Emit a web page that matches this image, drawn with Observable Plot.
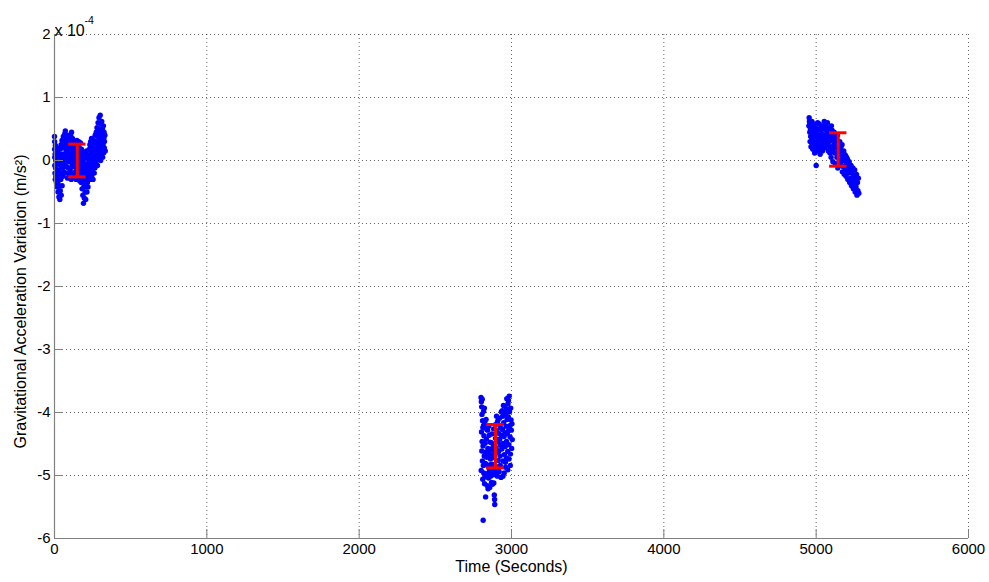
<!DOCTYPE html>
<html>
<head>
<meta charset="utf-8">
<script src="https://cdn.jsdelivr.net/npm/d3@7"></script>
<script src="https://cdn.jsdelivr.net/npm/@observablehq/plot@0.6"></script>
<style>
  html, body { margin: 0; padding: 0; background: #fff; }
  #chart svg { display: block; }
</style>
</head>
<body>
<div id="chart"></div>
<script>
// Tick values
const xTicks = [0, 1000, 2000, 3000, 4000, 5000, 6000];
const yTicks = [-6, -5, -4, -3, -2, -1, 0, 1, 2];

// Measurements: [time (s), gravitational acceleration variation (x 1e-4 m/s^2)]
const cluster1 = [
  [0,0.38],[1,0.30],[1,0.18],[2,0.05],[2,-0.08],[3,-0.2],[4,0.1],[5,-0.3],[6,0.24],[7,-0.12],[8,0.0],[9,-0.25],[10,0.15],[12,-0.05],[13,-0.35],[14,0.08],
  [16,-0.18],[17,-0.42],[19,0.2],[20,-0.28],[22,-0.05],[23,-0.5],[25,0.12],[26,-0.32],[28,-0.15],[29,-0.58],[31,0.05],[32,-0.4],[34,-0.22],[35,-0.62],[37,0.18],[38,-0.48],[40,-0.08],[41,-0.3],[43,0.25],[44,-0.55],[46,0.0],[47,-0.2],[49,0.32],[50,-0.4],[52,0.1],[53,-0.12],
  [55,0.28],[56,-0.25],[58,0.38],[59,0.05],[61,0.2],[62,-0.18],[64,0.35],[65,0.1],[67,0.42],[68,-0.05],[70,0.25],[71,0.47],[73,0.0],[74,0.3],[76,-0.2],[77,0.15],[79,0.38],[80,-0.1],[82,0.22],[83,0.05],[85,0.4],[86,-0.28],[88,0.12],[89,0.3],[91,-0.12],[92,0.2],[94,0.36],[95,-0.02],[97,0.26],[98,-0.22],[100,0.08],[101,0.33],[103,-0.15],[104,0.18],[106,0.4],[107,0.02],[109,0.28],[110,-0.3],[112,0.45],[113,0.1],[115,0.22],[116,-0.08],[118,0.35],[119,0.0],[121,0.15],[122,-0.2],[124,0.3],[125,0.05],[127,-0.1],[128,0.25],
  [130,0.12],[132,-0.25],[133,0.3],[135,-0.05],[136,0.18],[138,-0.18],[139,0.05],[141,0.25],[142,-0.3],[144,0.1],[145,-0.12],[147,0.32],[148,0.0],[150,-0.22],[151,0.15],[153,-0.08],[154,0.22],[156,-0.28],[157,0.08],[159,0.3],[160,-0.15],[162,0.02],[163,0.2],[165,-0.32],[166,-0.05],[168,0.12],[169,-0.2],[171,0.28],[172,-0.1],[174,0.05],[175,-0.35],[177,0.18],[178,-0.02],
  [180,-0.25],[181,-0.45],[183,0.1],[184,-0.15],[186,-0.55],[187,-0.32],[189,0.0],[190,-0.68],[192,-0.2],[193,-0.42],[195,0.12],[196,-0.6],[198,-0.08],[199,-0.35],[201,-0.5],[202,0.05],[204,-0.22],[205,-0.62],[207,-0.1],[208,-0.4],[210,0.15],[211,-0.28],[213,-0.5],[214,-0.05],[216,-0.35],[217,-0.15],[219,0.08],[220,-0.42],[222,-0.2],[223,-0.3],[225,0.02],[226,-0.12],[228,-0.25],[229,0.18],
  [231,-0.1],[232,0.25],[234,-0.3],[235,0.05],[237,0.3],[238,-0.18],[240,0.12],[241,-0.05],[243,0.35],[244,-0.25],[246,0.2],[247,0.0],[249,-0.15],[250,0.28],[252,0.08],[253,-0.3],[255,0.15],[256,-0.08],[258,0.32],[259,0.02],[261,-0.2],[262,0.22],[264,0.1],[265,-0.12],[267,0.4],[268,0.05],[270,0.25],[271,-0.05],[273,0.15],[274,0.45],
  [276,0.0],[277,0.3],[279,0.52],[280,0.12],[282,-0.08],[283,0.38],[285,0.2],[286,0.6],[288,0.05],[289,0.42],[291,0.25],[292,0.68],[294,0.1],[295,0.5],[297,0.32],[298,0.15],[300,0.72],[301,0.45],[303,0.0],[304,0.58],[306,0.28],[307,0.4],[309,0.1],[310,0.62],[312,0.35],[313,0.2],[315,0.5],[316,0.05],[318,0.42],[319,0.25],[321,0.55],[322,0.12],[324,0.35],[325,0.45],[327,0.2],[328,0.3],[331,0.4],[333,0.15]
];

const cluster2 = [
  [2800,-3.76],[2802,-3.83],[2804,-3.91],[2806,-4.03],[2808,-3.79],[2810,-4.13],[2803,-4.31],[2807,-4.46],[2812,-4.24],[2805,-4.61],[2809,-4.77],[2813,-4.53],[2801,-4.92],[2811,-5.06],[2815,-4.84],[2814,-5.71],[2817,-3.98],[2819,-4.37],[2821,-4.69],[2823,-5.13],[2818,-4.96],[2825,-4.17],[2827,-4.49],[2829,-4.81],[2826,-5.02],[2830,-5.34],[2816,-4.21],[2822,-3.93],[2828,-4.63],
  [2833,-4.11],[2835,-4.42],[2837,-4.71],[2839,-4.97],[2841,-5.16],[2843,-4.28],[2845,-4.57],[2847,-4.86],[2849,-5.04],[2851,-4.22],[2853,-4.66],[2855,-4.91],[2857,-5.19],[2859,-4.47],[2861,-4.74],[2863,-5.01],[2865,-4.59],[2867,-4.88],[2869,-5.11],[2871,-4.34],[2873,-4.82],[2875,-5.14],[2877,-4.56],[2879,-4.72],[2881,-4.99],[2883,-4.26],[2885,-4.87],[2887,-5.31],[2889,-5.38],[2890,-5.46],[2891,-4.62],[2893,-4.94],[2895,-4.41],[2838,-4.27],[2846,-5.21],[2854,-4.36],[2862,-4.93],[2870,-4.68],[2878,-4.96],[2886,-4.52],[2844,-4.64],[2852,-4.98],[2860,-4.83],[2868,-4.48],[2876,-4.67],[2884,-5.12],
  [2897,-4.19],[2899,-4.56],[2901,-4.86],[2903,-4.29],[2905,-4.64],[2907,-5.01],[2909,-4.14],[2911,-4.47],[2913,-4.76],[2915,-4.33],[2917,-4.61],[2919,-4.94],[2921,-4.09],[2923,-4.42],[2925,-4.69],[2927,-4.24],[2929,-4.52],[2931,-5.03],[2933,-3.99],[2935,-4.36],[2902,-4.06],[2914,-4.89],[2926,-4.84],
  [2937,-4.58],[2939,-3.97],[2941,-4.27],[2943,-4.49],[2945,-4.77],[2947,-3.89],[2949,-4.16],[2951,-4.38],[2953,-4.67],[2955,-4.04],[2957,-4.32],[2959,-4.54],[2961,-4.87],[2963,-4.01],[2965,-4.22],[2967,-4.46],[2969,-3.78],[2971,-4.11],[2973,-4.34],[2975,-4.62],[2977,-3.86],[2979,-4.07],[2981,-4.29],[2983,-4.51],[2985,-3.74],[2987,-3.99],[2989,-4.21],[2991,-4.39],[2993,-4.66],[2995,-3.93],[2997,-4.12],[2999,-4.28],[3001,-4.57],[3003,-4.18],[3005,-4.43],[2944,-5.01],[2952,-4.96],[2960,-4.79],[2968,-4.72],[2976,-4.91],[2984,-4.74],[2992,-4.84],[2942,-4.06],[2966,-3.94],[2980,-3.81]
];

const cluster3 = [
  [4952,0.55],[4954,0.68],[4956,0.62],[4958,0.45],[4960,0.3],[4962,0.5],[4964,0.38],[4966,0.22],[4968,0.58],[4970,0.42],[4972,0.28],[4974,0.48],[4976,0.35],[4978,0.18],[4980,0.52],[4982,0.4],[4984,0.25],[4986,0.45],[4988,0.3],[4990,0.12],
  [4993,0.55],[4996,0.38],[4999,0.2],[5000,-0.08],[5002,0.45],[5005,0.3],[5008,0.15],[5011,0.5],[5014,0.35],[5017,0.22],[5020,0.58],[5023,0.4],[5026,0.1],[5029,0.32],[5032,0.48],[5035,0.25],[5038,0.42],[5041,0.15],[5044,0.35],[5047,0.52],[5050,0.28],
  [5053,0.62],[5056,0.4],[5059,0.2],[5062,0.55],[5065,0.35],[5068,0.48],[5071,0.25],[5074,0.6],[5077,0.38],[5080,0.15],[5083,0.45],[5086,0.3],[5089,0.52],[5092,0.22],[5095,0.4],[5098,0.05],[5101,0.32],[5104,0.48],[5107,0.18],[5110,-0.02],[5113,0.35],[5116,0.25],
  [5118,0.45],[5121,0.12],[5124,0.3],[5127,-0.05],[5130,0.38],[5133,0.2],[5136,0.05],[5139,0.32],[5142,-0.12],[5145,0.15],[5148,0.25],[5151,0.0],[5154,0.18],[5157,-0.08],[5160,0.1],
  [5163,0.22],[5166,-0.02],[5169,0.12],[5172,-0.18],[5175,0.05],[5178,-0.1],[5181,0.15],[5184,-0.22],[5187,0.0],[5190,-0.12],[5193,0.08],[5196,-0.25],[5199,-0.05],[5202,-0.15],
  [5205,0.02],[5208,-0.3],[5211,-0.1],[5214,-0.2],[5217,-0.02],[5220,-0.35],[5223,-0.15],[5226,-0.28],[5229,-0.08],[5232,-0.4],[5235,-0.2],[5238,-0.32],[5241,-0.12],[5244,-0.45],[5247,-0.25],
  [5250,-0.38],[5253,-0.15],[5256,-0.5],[5259,-0.3],[5262,-0.42],[5265,-0.22],[5268,-0.55],[5271,-0.35],[5274,-0.48],[5277,-0.28],[5280,-0.52],
  [4958,0.6],[4965,0.52],[4972,0.62],[4985,0.58],[4995,0.48],[5010,0.6],[5025,0.5],[5040,0.55],[5055,0.5],[5070,0.42],[5085,0.38],[5100,0.55],[5012,0.25],[5030,0.2],[5060,0.28],[5090,0.12],[5125,0.42],[5140,0.4],[5155,0.3],[5170,0.25],[5185,0.1],[5200,0.05]
];

// Error bars (mean ± deviation), x 1e-4 m/s^2
const errTime = [150, 2895, 5145];
const errLow  = [-0.26, -4.88, -0.09];
const errHigh = [0.26, -4.19, 0.44];
const capHalfWidth = 57; // seconds

const points = [...cluster1, ...cluster2, ...cluster3].map(([t, v]) => ({t, v}));
const errors = errTime.map((t, i) => ({t, lo: errLow[i], hi: errHigh[i]}));

const font = "'Liberation Sans', Arial, Helvetica, sans-serif";
const axisGray = "#808080";

const chart = Plot.plot({
  width: 989,
  height: 582,
  marginLeft: 54,
  marginRight: 21,
  marginTop: 34,
  marginBottom: 44,
  style: {fontFamily: font, fontSize: "15px", background: "#fff", color: "#000", overflow: "visible"},
  x: {domain: [0, 6000]},
  y: {domain: [-6, 2]},
  marks: [
    Plot.gridX(xTicks, {stroke: "#000", strokeOpacity: 0.6, strokeDasharray: "1,3"}),
    Plot.gridY(yTicks, {stroke: "#000", strokeOpacity: 0.6, strokeDasharray: "1,3"}),
    Plot.dot(points, {x: "t", y: "v", r: 2.7, fill: "#0000ff", stroke: null}),
    Plot.ruleX(errors, {x: "t", y1: "lo", y2: "hi", stroke: "#ff0000", strokeWidth: 3}),
    Plot.ruleY(errors, {y: "lo", x1: d => d.t - capHalfWidth, x2: d => d.t + capHalfWidth, stroke: "#ff0000", strokeWidth: 3}),
    Plot.ruleY(errors, {y: "hi", x1: d => d.t - capHalfWidth, x2: d => d.t + capHalfWidth, stroke: "#ff0000", strokeWidth: 3}),
    Plot.ruleX([0], {stroke: axisGray, strokeWidth: 1.2}),
    Plot.ruleY([-6], {stroke: axisGray, strokeWidth: 1.2}),
    Plot.axisX(xTicks, {tickSize: -9, tickPadding: 14, stroke: axisGray, fill: "#000", fontSize: 15, label: null, tickFormat: d => String(d)}),
    Plot.axisY(yTicks, {tickSize: -9, tickPadding: 13, stroke: axisGray, fill: "#000", fontSize: 15, label: null, tickFormat: d => String(d)}),
    Plot.text(["x 10"], {frameAnchor: "top-left", dx: 0, dy: -10, textAnchor: "start", fontSize: 16, fill: "#000"}),
    Plot.text(["-4"], {frameAnchor: "top-left", dx: 30, dy: -18, textAnchor: "start", fontSize: 10.5, fill: "#000"}),
    Plot.text(["Gravitational Acceleration Variation (m/s²)"], {frameAnchor: "left", textAnchor: "middle", dx: -34, dy: 15, rotate: -90, fontSize: 16, fill: "#000"}),
    Plot.text(["Time (Seconds)"], {frameAnchor: "bottom", textAnchor: "middle", dy: 33, fontSize: 16, fill: "#000"})
  ]
});

document.getElementById("chart").appendChild(chart);
</script>
</body>
</html>
